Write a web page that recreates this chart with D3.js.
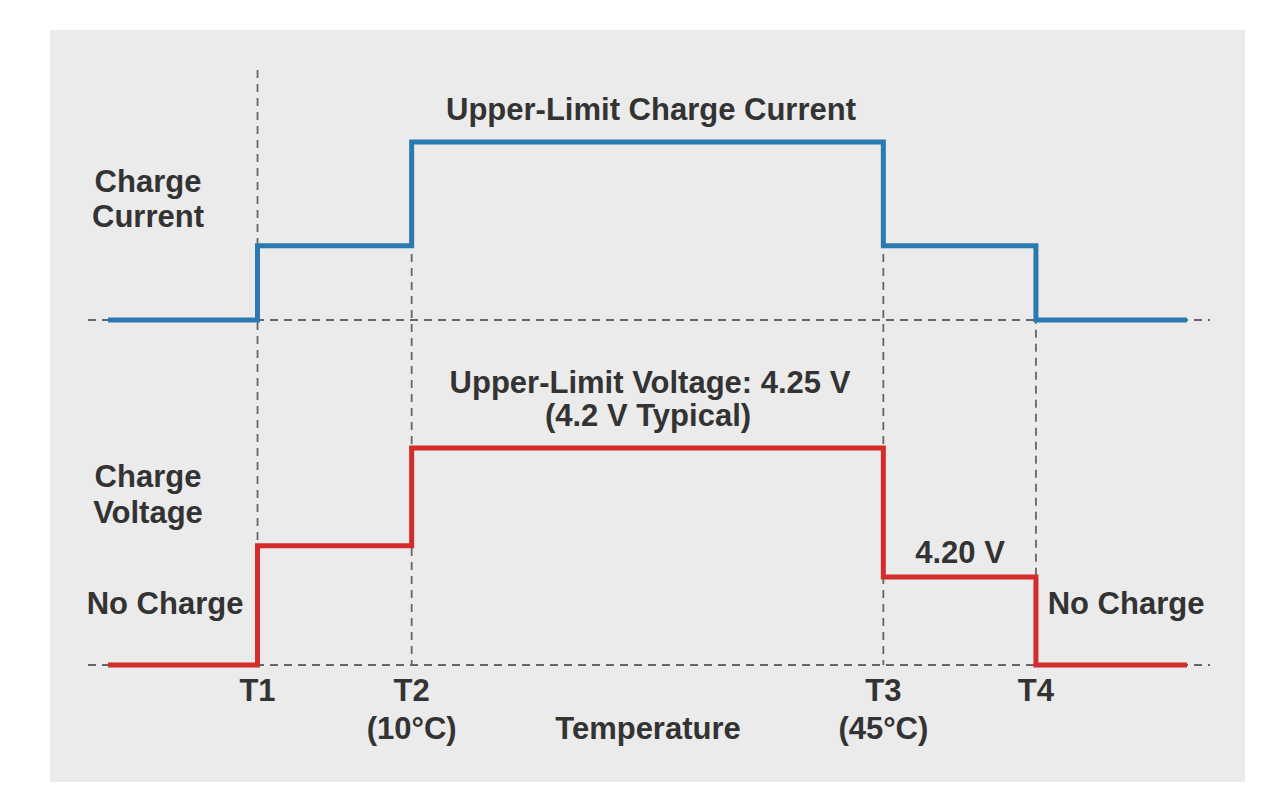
<!DOCTYPE html>
<html><head><meta charset="utf-8">
<script src="https://cdn.jsdelivr.net/npm/d3@7"></script>
<style>body{margin:0;background:#fff}svg{display:block}text{font-family:"Liberation Sans",Arial,sans-serif;font-weight:bold;fill:#333;font-size:31px}</style>
</head><body><svg id="c" width="1280" height="800"></svg>
<script>
// breakpoints along temperature axis (relative units)
const breakX = [0, 0.97, 1.97, 5.03, 6.02, 7];
const tickLabels = [[0.97,"T1",""],[1.97,"T2","(10°C)"],[5.03,"T3","(45°C)"],[6.02,"T4",""]];
const currentLevels = [0, 1, 2.4, 1, 0, 0];
const voltageLevels = [0, 0.55, 1, 0.405, 0, 0];

const svg = d3.select("#c");
svg.append("rect").attr("x",50).attr("y",30).attr("width",1195).attr("height",752).attr("fill","#ebebeb");
const x = d3.scaleLinear().domain([0,7]).range([108,1187]);
const yC = d3.scaleLinear().domain([0,2.4]).range([320,142]);
const yV = d3.scaleLinear().domain([0,1]).range([665,448]);
const dash = "8,6", dc = "#666";
[yC(0), yV(0)].forEach(y=>svg.append("line").attr("x1",88).attr("x2",1210).attr("y1",y).attr("y2",y).attr("stroke",dc).attr("stroke-width",2).attr("stroke-dasharray",dash));
const vTop = [70, yC(2.4), yC(2.4), yC(1)];
tickLabels.forEach(([t],i)=>svg.append("line").attr("x1",x(t)).attr("x2",x(t)).attr("y1",vTop[i]).attr("y2",yV(0)).attr("stroke",dc).attr("stroke-width",1.8).attr("stroke-dasharray",dash));
const mk = (ys, ysc) => d3.line().x(d=>x(d)).y((d,i)=>ysc(ys[i])).curve(d3.curveStepAfter)(breakX);
svg.append("path").attr("d",mk(currentLevels,yC)).attr("fill","none").attr("stroke","#2a79b0").attr("stroke-width",5);
svg.append("path").attr("d",mk(voltageLevels,yV)).attr("fill","none").attr("stroke","#d42b2b").attr("stroke-width",5);
const txt=(s,xx,yy,a="middle")=>svg.append("text").attr("x",xx).attr("y",yy).attr("text-anchor",a).text(s);
tickLabels.forEach(([t,a,b])=>{txt(a,x(t),701); if(b) txt(b,x(t),739);});
txt("Temperature",648,739);
txt("Upper-Limit Charge Current",651,120);
txt("Charge",148,192);txt("Current",148,227);
txt("Upper-Limit Voltage: 4.25 V",650,393);
txt("(4.2 V Typical)",648,426);
txt("Charge",148,487);txt("Voltage",148,523);
txt("No Charge",165,614);
txt("4.20 V",960,563);
txt("No Charge",1126,614);
</script></body></html>
